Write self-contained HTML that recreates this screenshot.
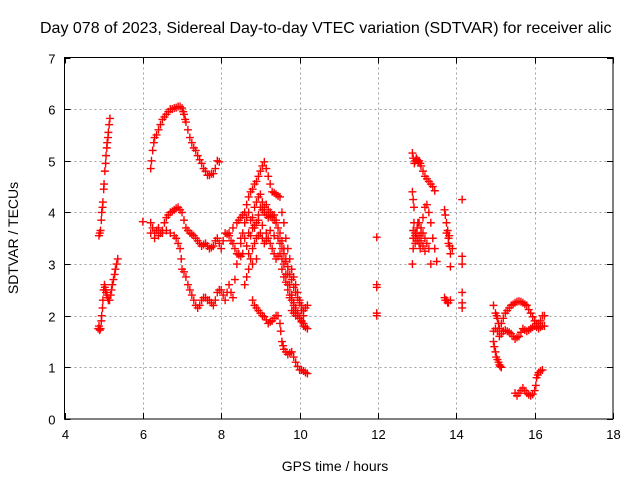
<!DOCTYPE html>
<html><head><meta charset="utf-8"><style>
body{margin:0;background:#fff}
svg{display:block;font-family:"Liberation Sans",sans-serif}
</style></head><body>
<svg id="chart" width="640" height="480">
<text x="40" y="33" font-size="16">Day 078 of 2023, Sidereal Day-to-day VTEC variation (SDTVAR) for receiver alic</text>
<text x="335" y="471" font-size="14" text-anchor="middle">GPS time / hours</text>
<text x="0" y="0" font-size="14" text-anchor="middle" transform="translate(18,238) rotate(-90)">SDTVAR / TECUs</text>
<g id="grid"></g><g id="ticks"></g><g id="marks"></g>
<rect x="64.5" y="57.5" width="548.5" height="361.5" fill="none" stroke="#000" stroke-width="1"/>
</svg>
<script>
const xTicks=[4,6,8,10,12,14,16,18];
const yTicks=[0,1,2,3,4,5,6,7];
const sAx=[4.88,4.9,4.92,4.94,4.95,4.97,4.98,5.0,5.01,5.03,5.05,5.06,5.08,5.09,5.11,5.12,5.14,5.16];
const sAy=[3.55,3.6,3.65,3.85,4.0,4.1,4.2,4.45,4.55,4.8,4.95,5.1,5.25,5.35,5.45,5.55,5.7,5.82];
const sBx=[4.86,4.88,4.9,4.92,4.94,4.95,4.97,4.98,5.0,5.02,5.03,5.05,5.06,5.08,5.1,5.12,5.15,5.18,5.2,5.22,5.25,5.28,5.3,5.33,5.36];
const sBy=[1.75,1.8,1.72,1.75,1.9,2.0,2.15,2.3,2.5,2.6,2.55,2.5,2.45,2.4,2.35,2.3,2.3,2.4,2.5,2.6,2.7,2.8,2.9,3.0,3.1];
const sCx=[6.2,6.22,6.25,6.28,6.3,6.35,6.4,6.45,6.5,6.55,6.6,6.65,6.7,6.75,6.8,6.85,6.9,6.95,7.0,7.03,7.05,7.08,7.1,7.15,7.2,7.25,7.3,7.35,7.4,7.45,7.5,7.55,7.6,7.65,7.7,7.75,7.8,7.85,7.9,7.95];
const sCy=[4.85,5.0,5.2,5.35,5.45,5.5,5.6,5.7,5.8,5.85,5.9,5.95,6.0,6.0,6.02,6.03,6.05,6.05,6.02,5.95,5.9,5.8,5.75,5.6,5.45,5.35,5.25,5.2,5.1,5.02,4.95,4.85,4.8,4.72,4.72,4.75,4.75,4.85,5.0,4.98];
const sDx=[6.2,6.25,6.3,6.35,6.4,6.45,6.5,6.55,6.6,6.65,6.7,6.75,6.8,6.85,6.9,6.95,7.0,7.05,7.1,7.15,7.2,7.25,7.3,7.35,7.4,7.45,7.5,7.55,7.6,7.65,7.7,7.75,7.8,7.85,7.9,7.95,8.0,8.05,8.1,8.15,8.2,8.25,8.3,8.35,8.4,8.45,8.5];
const sDy=[3.8,3.7,3.6,3.65,3.7,3.6,3.65,3.8,3.9,3.95,4.0,4.02,4.05,4.08,4.1,4.05,4.0,3.85,3.7,3.65,3.6,3.58,3.55,3.5,3.45,3.4,3.35,3.38,3.4,3.35,3.3,3.32,3.35,3.45,3.5,3.4,3.3,3.45,3.6,3.58,3.55,3.45,3.4,3.3,3.2,3.18,3.15];
const sEx=[6.2,6.3,6.4,6.5,6.6,6.7,6.8,6.85,6.9,6.95,6.98,7.0,7.05,7.1,7.15,7.2,7.25,7.3,7.35,7.4,7.45,7.5,7.55,7.6,7.65,7.7,7.75,7.8,7.85,7.9,7.95,8.0,8.05,8.1,8.15,8.2,8.25,8.3,8.35,8.4,8.45,8.5];
const sEy=[3.6,3.5,3.55,3.6,3.65,3.6,3.55,3.5,3.4,3.3,3.1,2.9,2.85,2.75,2.6,2.5,2.4,2.3,2.2,2.15,2.2,2.3,2.35,2.35,2.3,2.3,2.25,2.2,2.3,2.45,2.5,2.5,2.4,2.3,2.45,2.6,2.45,2.35,2.7,3.0,3.2,3.4];
const sFx=[8.2,8.3,8.4,8.45,8.5,8.55,8.6,8.65,8.7,8.75,8.8,8.85,8.9,8.95,9.0,9.05,9.1,9.15,9.2,9.25,9.3,9.35,9.4,9.45,9.5,9.55,9.6,9.65,9.7,9.75,9.8,9.85,9.9,9.95,10.0,10.05,10.1,10.15,10.2];
const sFy=[3.6,3.7,3.8,3.85,3.9,3.95,4.0,4.15,4.3,4.4,4.45,4.55,4.6,4.7,4.8,4.9,4.98,4.85,4.7,4.55,4.4,4.38,4.35,4.32,4.3,4.0,3.8,3.5,3.3,3.1,2.9,2.75,2.6,2.45,2.3,2.2,2.1,2.15,2.2];
const sGx=[8.6,8.7,8.8,8.85,8.9,8.95,9.0,9.05,9.1,9.15,9.2,9.25,9.3,9.35,9.4,9.45,9.5,9.55,9.6,9.65,9.7,9.75,9.8,9.85,9.9,9.95,10.0,10.05,10.1,10.15,10.2];
const sGy=[3.5,3.6,3.7,3.75,3.8,3.95,4.1,4.05,4.0,3.95,3.9,3.92,3.95,3.85,3.8,3.7,3.6,3.45,3.3,3.05,2.8,2.6,2.4,2.25,2.1,2.0,1.95,1.88,1.8,1.78,1.75];
const sHx=[8.6,8.65,8.7,8.75,8.8,8.85,8.9,8.95,9.0,9.05,9.1,9.15,9.2,9.25,9.3,9.35,9.4,9.45,9.5,9.55,9.6,9.65,9.7,9.75,9.8,9.85,9.9];
const sHy=[2.6,2.75,2.9,3.1,3.3,3.4,3.5,3.55,3.6,3.5,3.4,3.45,3.5,3.4,3.3,3.2,3.1,3.15,3.2,3.1,3.0,2.8,2.6,2.35,2.1,2.05,2.0];
const sIx=[8.8,8.85,8.9,8.95,9.0,9.05,9.1,9.15,9.2,9.25,9.3,9.35,9.4,9.45,9.5,9.52,9.55,9.58,9.6,9.65,9.7,9.75,9.8,9.85,9.9,9.95,10.0,10.05,10.1,10.15,10.2];
const sIy=[2.3,2.2,2.15,2.1,2.05,2.0,1.98,1.92,1.85,1.88,1.9,1.95,2.0,2.0,1.85,1.7,1.5,1.42,1.35,1.3,1.25,1.28,1.3,1.2,1.1,1.02,0.95,0.95,0.93,0.9,0.88];
const sJx=[12.88,12.9,12.93,12.95,12.98,13.0,13.03,13.05,13.08,13.1,13.15,13.2,13.25,13.3,13.35,13.4,13.45];
const sJy=[5.15,5.05,4.95,5.0,5.05,5.02,4.98,5.0,4.95,4.9,4.8,4.7,4.65,4.6,4.55,4.5,4.42];
const sKx=[12.88,12.9,12.92,12.92,12.95,12.9,12.95,12.9,12.88,13.0,13.05,13.1,13.15,13.2,13.25,13.3,13.35,13.4,13.45,13.5,13.05,13.1,13.15,13.2,13.25,13.3,13.35,13.0,12.97,12.9,12.95,13.0,13.05,13.1,13.15,13.2,13.02,13.08];
const sKy=[4.4,4.25,4.1,3.8,3.6,3.5,3.4,3.3,3.0,3.5,3.8,3.6,3.9,4.1,4.15,4.0,3.8,3.5,3.3,3.05,3.55,3.7,3.6,3.5,3.4,3.3,3.0,3.7,3.6,3.65,3.55,3.45,3.4,3.45,3.35,3.25,3.8,3.3];
const sLx=[13.7,13.72,13.75,13.78,13.8,13.83,13.85,13.9,13.85,13.7,13.72,13.75,13.78,13.8,13.85,13.75,13.8,13.82];
const sLy=[4.05,3.95,3.8,3.65,3.5,3.35,3.2,3.3,2.95,2.35,2.3,2.3,2.25,2.25,2.3,3.6,3.4,3.55];
const sMx=[14.95,15.0,15.03,15.05,15.08,15.1,15.15,15.2,15.25,15.3,15.35,15.4,15.45,15.5,15.55,15.6,15.65,15.7,15.75,15.8,15.85,15.9,15.95,16.0,16.05,16.1,16.15,16.2,16.25];
const sMy=[2.2,2.05,2.0,1.95,1.85,1.75,1.85,1.95,2.05,2.1,2.15,2.2,2.22,2.25,2.27,2.28,2.27,2.25,2.22,2.2,2.12,2.05,1.98,1.9,1.85,1.85,1.9,2.0,2.0];
const sNx=[14.95,15.0,15.05,15.1,15.15,15.2,15.25,15.3,15.35,15.4,15.45,15.5,15.55,15.6,15.65,15.7,15.75,15.8,15.85,15.9,15.95,16.0,16.05,16.1,16.15,16.2,16.25];
const sNy=[1.7,1.75,1.7,1.6,1.65,1.7,1.72,1.7,1.68,1.65,1.6,1.55,1.58,1.6,1.68,1.75,1.72,1.7,1.72,1.75,1.78,1.8,1.78,1.75,1.78,1.8,1.8];
const sOx=[14.95,14.97,15.0,15.02,15.05,15.08,15.1,15.12,15.15];
const sOy=[1.5,1.4,1.3,1.2,1.15,1.1,1.05,1.02,1.0];
const sPx=[15.5,15.55,15.6,15.65,15.7,15.75,15.8,15.85,15.9,15.95,16.0,16.03,16.05,16.08,16.1,16.15,16.2];
const sPy=[0.5,0.45,0.5,0.55,0.6,0.55,0.5,0.47,0.45,0.48,0.55,0.65,0.8,0.85,0.9,0.93,0.95];
const sQx=[6.0,11.97,11.97,11.97,11.97,11.97,14.15,14.15,14.15,14.15,14.15,14.15];
const sQy=[3.82,3.52,2.6,2.55,2.05,2.0,4.25,3.15,3.0,2.45,2.25,2.15];
const sRx=[8.5,8.55,8.6,8.65,8.7,8.75,8.8,8.85,8.9,8.95,9.0,9.05,9.1,9.15,9.2,9.25,9.3,9.35,9.4,8.55,8.65,8.75,8.85,8.95,9.05,9.15,9.25,9.35,8.7,8.8,8.9];
const sRy=[3.5,3.6,3.8,3.9,4.0,3.85,3.9,4.1,4.2,4.3,4.35,4.2,4.1,4.15,4.05,4.0,3.9,3.95,3.85,3.2,3.35,3.55,3.7,3.85,3.75,3.6,3.65,3.55,3.2,3.0,3.1];
const sSx=[9.45,9.5,9.55,9.6,9.65,9.7,9.75,9.8,9.85,9.9,9.95,10.0,10.05,10.1,9.55,9.6,9.65,9.7,9.75,9.8,9.85,9.9,9.95,10.0,10.05,10.1];
const sSy=[3.5,3.4,3.3,3.2,3.1,2.95,2.8,2.7,2.55,2.45,2.35,2.25,2.1,2.0,2.9,2.75,2.65,2.5,2.4,2.3,2.2,2.15,2.05,1.95,1.9,1.85];
const seriesX=[sAx,sBx,sCx,sDx,sEx,sFx,sGx,sHx,sIx,sJx,sKx,sLx,sMx,sNx,sOx,sPx,sQx,sRx,sSx];
const seriesY=[sAy,sBy,sCy,sDy,sEy,sFy,sGy,sHy,sIy,sJy,sKy,sLy,sMy,sNy,sOy,sPy,sQy,sRy,sSy];
const X0=64.5,X1=613,Y0=419,Y1=57.5;
const xs=v=>X0+(v-4)/14*(X1-X0);
const ys=v=>Y0-v/7*(Y0-Y1);
const NS="http://www.w3.org/2000/svg";
function mk(t,a,p){const e=document.createElementNS(NS,t);for(const k in a)e.setAttribute(k,a[k]);p.appendChild(e);return e;}
const grid=document.getElementById('grid'),ticks=document.getElementById('ticks'),marks=document.getElementById('marks');
xTicks.forEach(v=>{const x=Math.round(xs(v))+0.5;
 if(v>4&&v<18){const g=mk('line',{x1:x,x2:x,y1:Y1,y2:Y0,stroke:'#a0a0a0','stroke-dasharray':'2,3'},grid);
 
 }
 const t=mk('text',{x:x,y:Y0+20,'font-size':13,'text-anchor':'middle'},ticks);t.textContent=v;
 
 
 mk('line',{x1:x,x2:x,y1:Y0,y2:Y0-6,stroke:'#000'},ticks);mk('line',{x1:x,x2:x,y1:Y1,y2:Y1+6,stroke:'#000'},ticks);});
yTicks.forEach(v=>{const y=Math.round(ys(v))+0.5;
 if(v>0&&v<7){const g=mk('line',{x1:X0,x2:X1,y1:y,y2:y,stroke:'#a0a0a0','stroke-dasharray':'2,3'},grid);
 
 }
 const t=mk('text',{x:X0-9,y:y+5,'font-size':13,'text-anchor':'end'},ticks);t.textContent=v;
 
 
 mk('line',{x1:X0,x2:X0+6,y1:y,y2:y,stroke:'#000'},ticks);mk('line',{x1:X1,x2:X1-6,y1:y,y2:y,stroke:'#000'},ticks);});
seriesX.forEach((arr,i)=>{const ya=seriesY[i];arr.forEach((xv,j)=>{const cx=xs(xv),cy=ys(ya[j]);
 const p=mk('path',{d:`M${cx-4} ${cy}H${cx+4}M${cx} ${cy-4}V${cy+4}`,stroke:'#ff0000','stroke-width':1.4,fill:'none'},marks);
 
 });});
</script>
</body></html>
